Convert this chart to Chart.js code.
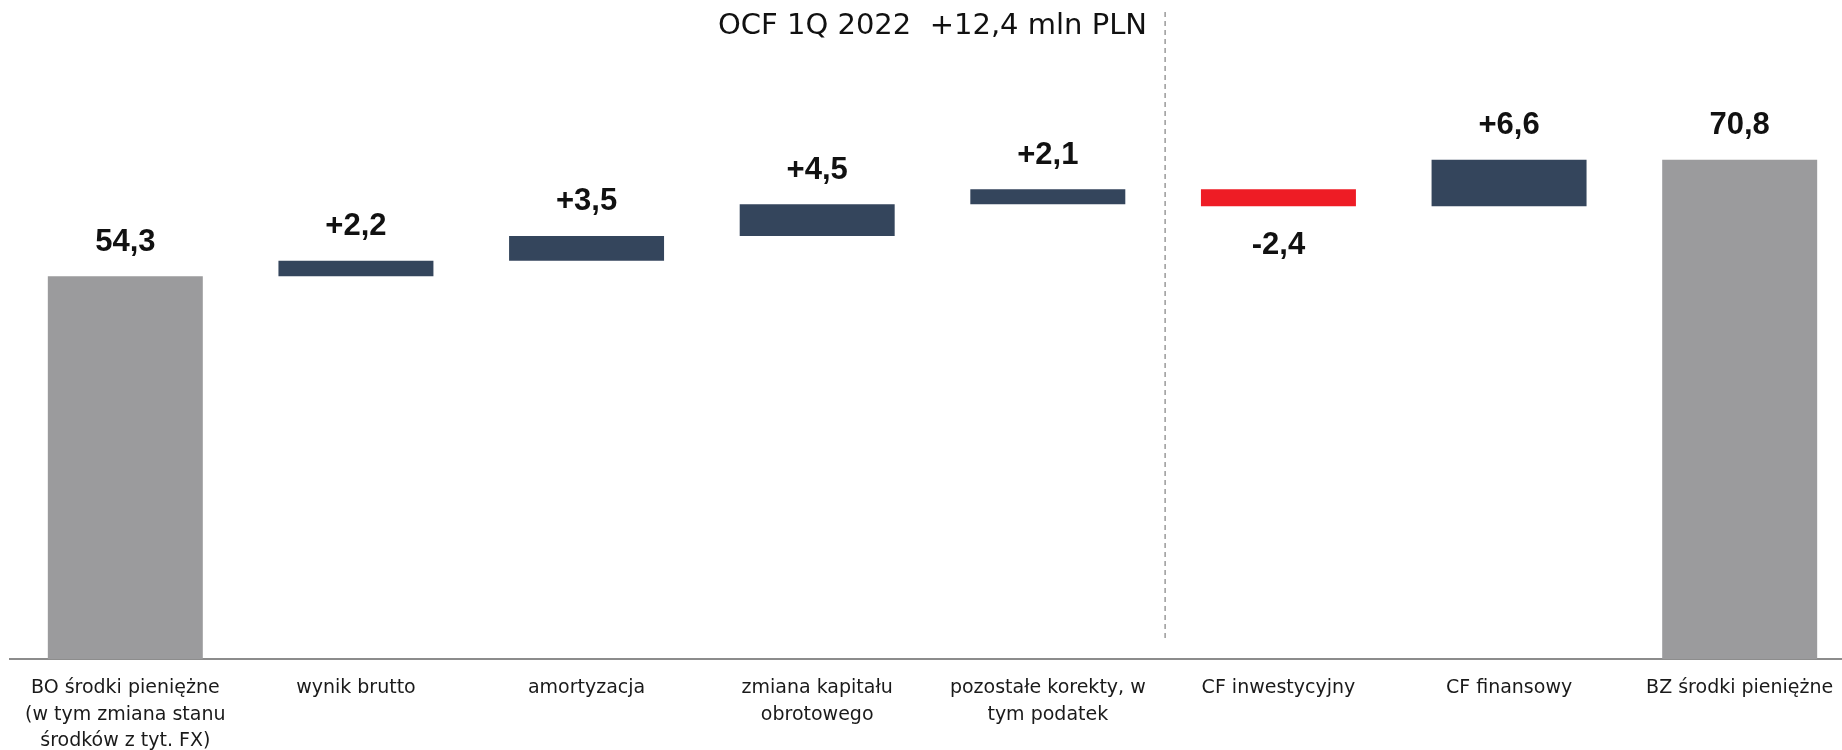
<!DOCTYPE html>
<html>
<head>
<meta charset="utf-8">
<title>OCF 1Q 2022</title>
<script src="https://cdn.jsdelivr.net/npm/chart.js"></script>
<style>
    html, body { margin: 0; padding: 0; background: #ffffff; overflow: hidden; }
    .wrap { width: 1860px; height: 750px; }
</style>
</head>
<body>
<div class="wrap"><canvas id="ocf" width="1860" height="750"></canvas></div>
<script>
// dane wykresu
const categories = [
    ['BO środki pieniężne', '(w tym zmiana stanu', 'środków z tyt. FX)'],
    'wynik brutto',
    'amortyzacja',
    ['zmiana kapitału', 'obrotowego'],
    ['pozostałe korekty, w', 'tym podatek'],
    'CF inwestycyjny',
    'CF finansowy',
    'BZ środki pieniężne'
];
const deltas = [54.3, 2.2, 3.5, 4.5, 2.1, -2.4, 6.6, 70.8];
const kinds = ['total', 'step', 'step', 'step', 'step', 'step', 'step', 'total'];
const titleText = 'OCF 1Q 2022  +12,4 mln PLN';

const GREY = '#9b9b9d', NAVY = '#34455c', RED = '#ee1c25';

// zakresy słupków pływających
const ranges = [];
const colors = [];
let run = 0;
deltas.forEach((v, i) => {
    if (kinds[i] === 'total') {
        ranges.push([0, v]);
        run = v;
        colors.push(GREY);
    } else {
        ranges.push([run, run + v]);
        run += v;
        colors.push(v < 0 ? RED : NAVY);
    }
});

const fmt = (v, kind) => {
    const s = Math.abs(v).toFixed(1).replace('.', ',');
    if (kind === 'total') return s;
    return (v < 0 ? '-' : '+') + s;
};

// etykiety wartości
const valueLabels = {
    id: 'valueLabels',
    afterDatasetsDraw(chart) {
        const ctx = chart.ctx;
        const meta = chart.getDatasetMeta(0);
        ctx.save();
        ctx.font = 'bold 31px "Liberation Sans Narrow", "Liberation Sans", sans-serif';
        ctx.fillStyle = '#111111';
        ctx.textAlign = 'center';
        ctx.textBaseline = 'middle';
        meta.data.forEach((el, i) => {
            const top = Math.min(el.y, el.base);
            const bottom = Math.max(el.y, el.base);
            const v = deltas[i];
            if (v < 0) ctx.fillText(fmt(v, kinds[i]), el.x, bottom + 39);
            else ctx.fillText(fmt(v, kinds[i]), el.x, top - 34);
        });
        ctx.restore();
    }
};

// przerywana linia rozdzielająca OCF
const divider = {
    id: 'divider',
    afterDraw(chart) {
        const x = chart.scales.x;
        const px = (x.getPixelForValue(4) + x.getPixelForValue(5)) / 2 + 2;
        const ctx = chart.ctx;
        ctx.save();
        ctx.strokeStyle = '#9a9a9a';
        ctx.lineWidth = 1.5;
        ctx.setLineDash([5, 4]);
        ctx.beginPath();
        ctx.moveTo(px, 12);
        ctx.lineTo(px, 641);
        ctx.stroke();
        ctx.restore();
    }
};

new Chart(document.getElementById('ocf'), {
    type: 'bar',
    data: {
        labels: categories,
        datasets: [{
            data: ranges,
            backgroundColor: colors,
            borderWidth: 0,
            barPercentage: 0.672,
            categoryPercentage: 1
        }]
    },
    options: {
        responsive: false,
        animation: false,
        layout: { padding: { left: 10, right: 5, top: 0, bottom: -20 } },
        plugins: {
            legend: { display: false },
            tooltip: { enabled: false },
            title: {
                display: true,
                fullSize: false,
                text: titleText,
                color: '#111111',
                font: { family: '"DejaVu Sans", sans-serif', size: 29, weight: 'normal', lineHeight: 1.2 },
                padding: { top: 9, bottom: 51 }
            }
        },
        scales: {
            x: {
                grid: { display: false, drawTicks: false },
                border: { display: true, color: '#8c8c8c', width: 2 },
                ticks: {
                    color: '#1a1a1a',
                    font: { family: '"DejaVu Sans", sans-serif', size: 19, lineHeight: 1.38 },
                    padding: 16,
                    maxRotation: 0,
                    autoSkip: false
                }
            },
            y: { display: false, min: 0, max: 80 }
        }
    },
    plugins: [valueLabels, divider]
});
</script>
</body>
</html>
